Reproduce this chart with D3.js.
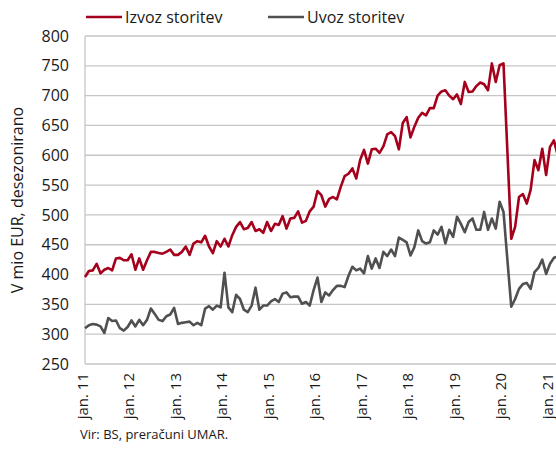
<!DOCTYPE html>
<html>
<head>
<meta charset="utf-8">
<script src="https://cdn.jsdelivr.net/npm/d3@7"></script>
<style>
body { margin: 0; background: #fff; }
svg { display: block; font-family: "Open Sans", sans-serif; }
</style>
</head>
<body>
<svg id="chart" width="556" height="454"></svg>
<script>
// mesečni podatki, jan. 2011 - mar. 2021
var izvoz = [
	396, 406, 407, 418, 402, 408, 411, 407, 427, 428, 424, 424,
	434, 408, 427, 408, 424, 438, 438, 436, 435, 438, 442, 433,
	433, 438, 447, 433, 452, 456, 454, 465, 447, 436, 456, 447,
	460, 447, 466, 480, 488, 476, 478, 488, 473, 476, 470, 488,
	473, 485, 483, 498, 477, 494, 495, 506, 487, 490, 506, 514,
	540, 533, 514, 527, 530, 526, 547, 565, 569, 578, 561, 592,
	609, 586, 610, 611, 604, 615, 635, 639, 632, 610, 654, 664,
	630, 648, 663, 671, 667, 679, 679, 700, 707, 709, 700, 694,
	702, 686, 723, 706, 707, 716, 722, 719, 709, 754, 723, 751,
	754, 607, 460, 480, 530, 535, 519, 542, 592, 575, 611, 567,
	614, 625, 600
];
var uvoz = [
	310, 315, 317, 316, 313, 302, 327, 322, 323, 310, 306, 312,
	323, 313, 324, 315, 324, 343, 334, 324, 322, 330, 333, 344,
	317, 319, 320, 321, 315, 319, 315, 343, 347, 341, 348, 345,
	403, 345, 337, 366, 359, 341, 337, 348, 378, 341, 348, 348,
	355, 359, 354, 368, 370, 362, 363, 363, 351, 354, 348, 374,
	395, 354, 370, 365, 374, 381, 381, 379, 398, 413, 407, 410,
	402, 431, 410, 427, 411, 438, 431, 442, 431, 462, 458, 454,
	432, 446, 474, 456, 452, 454, 474, 467, 480, 452, 475, 463,
	497, 485, 471, 488, 494, 475, 475, 505, 475, 494, 477, 522,
	505, 425, 346, 359, 376, 384, 386, 376, 404, 411, 425, 401,
	418, 428, 430
];
var xTickLabels = ["jan. 11", "jan. 12", "jan. 13", "jan. 14", "jan. 15", "jan. 16",
	"jan. 17", "jan. 18", "jan. 19", "jan. 20", "jan. 21"];
var yTicks = [250, 300, 350, 400, 450, 500, 550, 600, 650, 700, 750, 800];
var series = [
	{name: "Izvoz storitev", values: izvoz, color: "#a5001c"},
	{name: "Uvoz storitev", values: uvoz, color: "#505050"}
];

var svg = d3.select("#chart"),
	pLeft = 85,
	pTop = 36,
	pBottom = 364,
	step = 3.875;

var x = d3.scaleLinear()
	.domain([0, izvoz.length - 1])
	.range([pLeft, pLeft + (izvoz.length - 1) * step]);
var y = d3.scaleLinear()
	.domain([250, 800])
	.range([pBottom, pTop]);

// mreža
svg.append("g")
	.selectAll("line")
	.data(yTicks)
	.enter()
	.append("line")
	.attr("x1", pLeft)
	.attr("x2", 556)
	.attr("y1", function (d) { return y(d); })
	.attr("y2", function (d) { return y(d); })
	.attr("stroke", "#c6c6c6")
	.attr("stroke-width", 1.3);

svg.append("line")
	.attr("x1", pLeft).attr("x2", pLeft)
	.attr("y1", pTop).attr("y2", pBottom)
	.attr("stroke", "#c6c6c6")
	.attr("stroke-width", 1.3);

// y os
var yAxis = svg.append("g")
	.attr("transform", "translate(" + pLeft + ",0)")
	.call(d3.axisLeft(y).tickValues(yTicks).tickSize(0).tickPadding(16));
yAxis.select(".domain").remove();
yAxis.selectAll("text")
	.attr("font-size", "16px")
	.attr("font-family", "Open Sans")
	.attr("fill", "#1a1a1a");

// x os
var xAxis = svg.append("g")
	.attr("transform", "translate(0," + pBottom + ")")
	.call(d3.axisBottom(x)
		.tickValues(d3.range(0, izvoz.length, 12))
		.tickFormat(function (d, i) { return xTickLabels[i]; })
		.tickSize(0));
xAxis.select(".domain").remove();
xAxis.selectAll("text")
	.attr("transform", "rotate(-90)")
	.attr("x", -9)
	.attr("y", -3)
	.attr("dy", "0.35em")
	.attr("text-anchor", "end")
	.attr("font-size", "15px")
	.attr("font-family", "Open Sans")
	.attr("fill", "#1a1a1a");

// črte
var line = d3.line()
	.x(function (d, i) { return x(i); })
	.y(function (d) { return y(d); });

svg.selectAll(".serie")
	.data(series)
	.enter()
	.append("path")
	.attr("class", "serie")
	.attr("d", function (d) { return line(d.values); })
	.attr("fill", "none")
	.attr("stroke", function (d) { return d.color; })
	.attr("stroke-width", 2.6)
	.attr("stroke-linejoin", "round");

// legenda
var legend = svg.selectAll(".legend")
	.data(series)
	.enter()
	.append("g")
	.attr("class", "legend")
	.attr("transform", function (d, i) { return "translate(" + (86 + i * 182) + ",17)"; });
legend.append("line")
	.attr("x1", 0).attr("x2", 36)
	.attr("stroke", function (d) { return d.color; })
	.attr("stroke-width", 2.6);
legend.append("text")
	.attr("x", 39)
	.attr("dy", "0.35em")
	.attr("font-size", "16px")
	.attr("fill", "#1a1a1a")
	.text(function (d) { return d.name; });

// naslov osi
svg.append("text")
	.attr("transform", "translate(17," + ((pTop + pBottom) / 2) + ") rotate(-90)")
	.attr("text-anchor", "middle")
	.attr("dy", "0.35em")
	.attr("font-size", "16px")
	.attr("fill", "#1a1a1a")
	.text("V mio EUR, desezonirano");

// vir
svg.append("text")
	.attr("x", 80)
	.attr("y", 439)
	.attr("font-size", "13px")
	.attr("fill", "#1a1a1a")
	.text("Vir: BS, preračuni UMAR.");
</script>
</body>
</html>
